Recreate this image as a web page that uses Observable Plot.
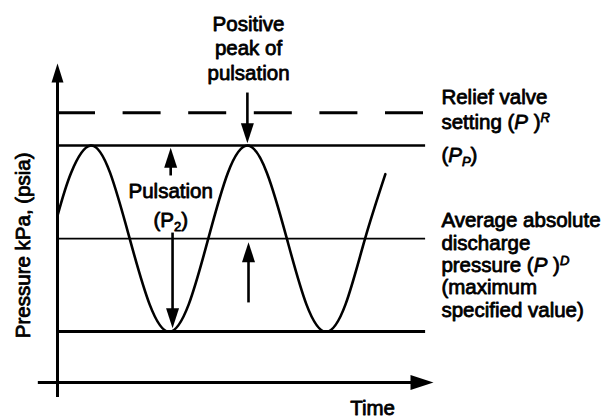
<!DOCTYPE html>
<html><head><meta charset="utf-8">
<script src="https://cdn.jsdelivr.net/npm/d3@7"></script>
<script src="https://cdn.jsdelivr.net/npm/@observablehq/plot@0.6"></script>
<style>
html,body{margin:0;padding:0;background:#fff;}
#chart{width:612px;height:418px;overflow:hidden;}
</style></head><body><div id="chart"></div>
<script>
// Pulsation wave (time and pressure in arbitrary 0–100 units)
const timeValues = [0, 3.6, 8.8, 14.0, 19.2, 24.5, 29.7, 34.9, 40.1, 45.3, 50.5, 55.7, 61.0, 66.2, 71.4, 76.6, 81.8, 87.2];
const pressureValues = [52.3, 65.7, 74.3, 65.7, 45.1, 24.5, 15.9, 24.5, 45.1, 65.7, 74.3, 65.7, 45.1, 24.5, 15.9, 24.5, 45.1, 65.3];

// Reference pressure levels
const levelNames = ["Relief valve setting", "Peak pressure", "Average absolute discharge pressure", "Minimum pressure"];
const levelValues = [84.6, 74.3, 45.1, 16.0];

// Annotation arrows (time, tail pressure, tip pressure, direction)
const arrowTimes = [50.5, 30.1, 30.6, 50.8];
const arrowTails = [90.9, 64.9, 47.0, 25.1];
const arrowTips = [75.0, 73.6, 17.0, 44.0];
const arrowDirs = ["down", "up", "down", "up"];

// Texts
const topLabel = "Positive\npeak of\npulsation";
const pulsationLabel = "Pulsation\n(P<sub>2</sub>)";
const reliefLabel = "Relief valve\nsetting (<i>P</i> )<isup>R</isup>";
const peakLabel = "(<i>P</i><isub>P</isub>)";
const averageLabel = "Average absolute\ndischarge\npressure (<i>P</i> )<isup>D</isup>\n(maximum\nspecified value)";
const yLabel = "Pressure kPa, (psia)";
const xLabel = "Time";

const FONT = "'Liberation Sans', Arial, Helvetica, sans-serif";

function head(w, l, dir) {
  return {draw(ctx) {
    if (dir === "up") { ctx.moveTo(0, 0); ctx.lineTo(w / 2, l); ctx.lineTo(-w / 2, l); }
    else if (dir === "down") { ctx.moveTo(0, 0); ctx.lineTo(w / 2, -l); ctx.lineTo(-w / 2, -l); }
    else { ctx.moveTo(0, 0); ctx.lineTo(-l, w / 2); ctx.lineTo(-l, -w / 2); }
    ctx.closePath();
  }};
}

const idx = d3.range(arrowTimes.length);
const upIdx = idx.filter(i => arrowDirs[i] === "up");
const downIdx = idx.filter(i => arrowDirs[i] === "down");

const textOpts = {fontSize: 20.5, fontFamily: FONT, fill: "black", stroke: "black", strokeWidth: 0.8, lineAnchor: "top"};

const chart = Plot.plot({
  width: 612, height: 418,
  marginTop: 63, marginBottom: 36, marginLeft: 57, marginRight: 179,
  x: {domain: [0, 100], axis: null},
  y: {domain: [0, 100], axis: null},
  style: {background: "white", color: "black", fontFamily: FONT, overflow: "visible"},
  marks: [
    // reference levels
    Plot.ruleY([levelValues[0]], {x1: 0, x2: 97.9, strokeWidth: 3, strokeDasharray: "38,27.6"}),
    Plot.ruleY([levelValues[1]], {x1: 0, x2: 97.9, strokeWidth: 2.6}),
    Plot.ruleY([levelValues[2]], {x1: 0, x2: 97.9, strokeWidth: 1.6}),
    Plot.ruleY([levelValues[3]], {x1: 0, x2: 97.9, strokeWidth: 3}),
    // axes
    Plot.ruleX([0], {y1: -4.7, y2: 95, strokeWidth: 3}),
    Plot.ruleY([0], {x1: -5.1, x2: 96, strokeWidth: 3}),
    Plot.dot([0], {x: 0, y: 100, symbol: head(12, 19, "up"), fill: "black", stroke: null}),
    Plot.dot([0], {x: 100, y: 0, symbol: head(15, 23, "right"), fill: "black", stroke: null}),
    // wave
    Plot.line(timeValues, {x: d => d, y: (d, i) => pressureValues[i], curve: "natural", strokeWidth: 2.6}),
    // arrow shafts
    Plot.link(idx, {
      x1: i => arrowTimes[i], x2: i => arrowTimes[i],
      y1: i => arrowTails[i],
      y2: i => arrowTips[i] + (arrowDirs[i] === "up" ? -4 : 4),
      strokeWidth: 2.6
    }),
    Plot.dot(upIdx, {x: i => arrowTimes[i], y: i => arrowTips[i], symbol: head(13, 20, "up"), fill: "black", stroke: null}),
    Plot.dot(downIdx, {x: i => arrowTimes[i], y: i => arrowTips[i], symbol: head(13, 20, "down"), fill: "black", stroke: null}),
    // labels
    Plot.text([topLabel], {...textOpts, text: d => d, x: 50.8, y: 115.7, textAnchor: "middle", lineHeight: 1.2}),
    Plot.text([pulsationLabel], {...textOpts, text: d => d, x: 30.1, y: 64.2, textAnchor: "middle", lineHeight: 1.42}),
    Plot.text([reliefLabel], {...textOpts, text: d => d, x: 102.1, y: 92.8, textAnchor: "start", lineHeight: 1.22}),
    Plot.text([peakLabel], {...textOpts, text: d => d, x: 102.1, y: 73.7, textAnchor: "start"}),
    Plot.text([averageLabel], {...textOpts, text: d => d, x: 102.1, y: 53.6, textAnchor: "start", lineHeight: 1.09}),
    Plot.text([xLabel], {...textOpts, text: d => d, x: 83.8, y: -5.5, textAnchor: "middle"}),
    Plot.text([yLabel], {...textOpts, text: d => d, x: -9.0, y: 43.0, rotate: -90, textAnchor: "middle", lineAnchor: "middle"})
  ]
});

// turn the small markup into styled tspans (italic, superscript, subscript)
function richify(node) {
  const s = node.textContent;
  node.textContent = "";
  const re = /<(i|isup|isub|sub)>(.*?)<\/\1>|([^<]+)/g;
  let m;
  while ((m = re.exec(s))) {
    const t = document.createElementNS("http://www.w3.org/2000/svg", "tspan");
    if (m[3] !== undefined) {
      t.textContent = m[3];
    } else {
      t.textContent = m[2];
      const k = m[1];
      if (k !== "sub") t.setAttribute("font-style", "italic");
      if (k === "isup") { t.setAttribute("font-size", "13"); t.style.setProperty("baseline-shift", "7px"); }
      if (k === "isub" || k === "sub") { t.setAttribute("font-size", "13"); t.style.setProperty("baseline-shift", "-4px"); }
    }
    node.appendChild(t);
  }
}
chart.querySelectorAll("text, tspan").forEach(n => {
  if (n.childElementCount === 0 && n.textContent.includes("<")) richify(n);
});

document.getElementById("chart").appendChild(chart);
</script>
</body></html>
